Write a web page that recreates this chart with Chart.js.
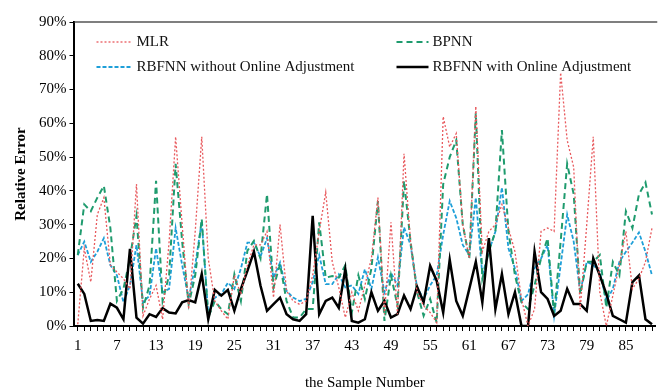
<!DOCTYPE html>
<html><head><meta charset="utf-8">
<script src="https://cdn.jsdelivr.net/npm/chart.js@4"></script>
<style>html,body{margin:0;padding:0;background:#fff}#wrap{width:658px;height:392px;position:relative}</style>
</head><body><div id="wrap"><canvas id="c" width="658" height="392"></canvas></div>
<script>
const sampleNumbers = [1,2,3,4,5,6,7,8,9,10,11,12,13,14,15,16,17,18,19,20,21,22,23,24,25,26,27,28,29,30,31,32,33,34,35,36,37,38,39,40,41,42,43,44,45,46,47,48,49,50,51,52,53,54,55,56,57,58,59,60,61,62,63,64,65,66,67,68,69,70,71,72,73,74,75,76,77,78,79,80,81,82,83,84,85,86,87,88,89];
const xTickLabels = [1,7,13,19,25,31,37,43,49,55,61,67,73,79,85];
const yTickLabels = [0,10,20,30,40,50,60,70,80,90];

const mlr = [0.5,23,13,33,38,18,16,14,11,42,3,8,12,2,25,56,30,5,28,56,20,7.4,4.5,2,15,9.4,18,24,24,28,8.4,30,10.4,7.4,6.4,7.4,15,28,39.6,19,11.4,2.5,10,4.5,12,20,38,3.5,30.7,3.5,51,25,10,6,4,1,62,53,57,30,20,65,22,28,30,36,29,22,8,0,5,28,29,28,75,55,47,5,30,56,10,0,9,18,28,11,14,19,29];
const bpnn = [21,36,34,38,41.5,29,7.4,11,20,32.6,5.4,12,43,7.4,15,48,25,6.4,15,31.7,2.5,7.4,5,3.5,15.3,7.4,22.3,25.2,20,39,11.4,18.3,7.4,2.5,2.5,5,5,30.7,14.3,14.8,14.3,18,4,15,8,17,37,1.5,15,6,43,25,10,3,8,1,42,50,55,30,20,63,14,22,28,58,28,15,7,5,12,20,26,3.5,25,48,39,9.4,19,19,21,5.4,19,15,34,29,39,42.5,33];
const rbfWithout = [21,25,19,22,26,18,15,7,12,24,7,9,23,10,11,29,18,8,18,31,3.5,8.4,9.4,12.8,11,17,24.7,24.7,20.5,26,14.3,18.8,10.4,8.4,7.4,8,13,21,12.4,12.4,15.3,11.4,12,9.5,16.8,11,20.3,10,15.8,12,29.2,24,11.4,8,12,15,27,37,32,24,21,38,15,22,28,41,23,17,7.4,9.4,17,20,24,3,18,33,25,10,19,18,16,7.4,11,19,22,24.7,27.7,22,15];
const rbfWith = [12.5,9.5,1.5,1.8,1.5,6.6,5.4,2,22.8,2.5,0.7,3.5,2.7,5.3,4,3.7,7,7.7,7,15.4,2,10.7,9,10.7,4.5,11,16.3,22,12,4.5,6.5,8.4,3.5,2,1.5,3.5,32.6,3.5,7.4,8.4,5.4,16.8,1.5,1,2,10,4.5,7.4,2.5,3.5,9,5,11.6,7,17.8,13.4,4,19.6,7.4,3,11,19,7,26,5,15.4,3.5,10,0,0,22,10,8,3,4.5,11,6.5,6.5,4.5,20,15,9.5,3,2,1,13,15,2,0.5];

const SERIF = '"Liberation Serif","Times New Roman",serif';

const legendPlugin = {
  id: 'gridLegend',
  afterDraw(chart) {
    const ctx = chart.ctx, a = chart.chartArea;
    ctx.save();
    ctx.strokeStyle = '#555';
    ctx.lineWidth = 1.5;
    ctx.beginPath();
    ctx.moveTo(a.left, a.top);
    ctx.lineTo(a.right + 2, a.top);
    ctx.stroke();
    const cols = [a.left + 22, a.left + 322];
    const rows = [a.top + 20, a.top + 45];
    chart.data.datasets.forEach((ds, i) => {
      const x = cols[i % 2], y = rows[Math.floor(i / 2)];
      ctx.strokeStyle = ds.borderColor;
      ctx.lineWidth = ds.borderWidth;
      ctx.setLineDash(ds.borderDash || []);
      ctx.beginPath();
      ctx.moveTo(x, y);
      ctx.lineTo(x + (i % 2 ? 32 : 36), y);
      ctx.stroke();
      ctx.setLineDash([]);
      ctx.fillStyle = '#111';
      ctx.font = '15px ' + SERIF;
      ctx.textBaseline = 'middle';
      ctx.textAlign = 'left';
      ctx.fillText(ds.label, x + (i % 2 ? 36 : 40), y);
    });
    ctx.restore();
  }
};

new Chart(document.getElementById('c'), {
  type: 'line',
  data: {
    labels: sampleNumbers,
    datasets: [
      {label: 'MLR', data: mlr, borderColor: '#e8585c', borderWidth: 1.3, borderDash: [2, 2], order: 1},
      {label: 'BPNN', data: bpnn, borderColor: '#1f9b6e', borderWidth: 2, borderDash: [6, 4], order: 3},
      {label: 'RBFNN without Online Adjustment', data: rbfWithout, borderColor: '#1e9fd8', borderWidth: 1.8, borderDash: [4, 2], order: 4},
      {label: 'RBFNN with Online Adjustment', data: rbfWith, borderColor: '#000000', borderWidth: 2.5, order: 2}
    ]
  },
  options: {
    responsive: false,
    animation: false,
    devicePixelRatio: 1,
    layout: {padding: {top: 22, right: 0, left: 12, bottom: 0}},
    elements: {point: {radius: 0}, line: {tension: 0, fill: false}},
    plugins: {legend: {display: false}, tooltip: {enabled: false}},
    scales: {
      x: {
        type: 'category',
        offset: true,
        grid: {display: true, drawOnChartArea: false, drawTicks: true, tickLength: 5, color: '#000', lineWidth: 1},
        border: {display: true, color: '#000', width: 2},
        ticks: {
          autoSkip: false, maxRotation: 0, minRotation: 0, padding: 6,
          color: '#000', font: {family: SERIF, size: 15},
          callback: function(v, i) { const l = sampleNumbers[i]; return xTickLabels.includes(l) ? String(l) : ''; }
        },
        title: {display: true, text: 'the Sample Number', color: '#000', font: {family: SERIF, size: 15}, padding: {top: 13, bottom: 0}}
      },
      y: {
        min: 0, max: 90,
        afterBuildTicks: (axis) => { axis.ticks = yTickLabels.map(v => ({value: v})); },
        grid: {display: true, drawOnChartArea: false, drawTicks: true, tickLength: 5, color: '#000'},
        border: {display: true, color: '#000', width: 2},
        ticks: {color: '#000', padding: 3, font: {family: SERIF, size: 15}, callback: v => v + '%'},
        title: {display: true, text: 'Relative Error', color: '#000', font: {family: SERIF, size: 15, weight: 'bold'}, padding: {top: 0, bottom: 6}}
      }
    }
  },
  plugins: [legendPlugin]
});
</script>
</body></html>
